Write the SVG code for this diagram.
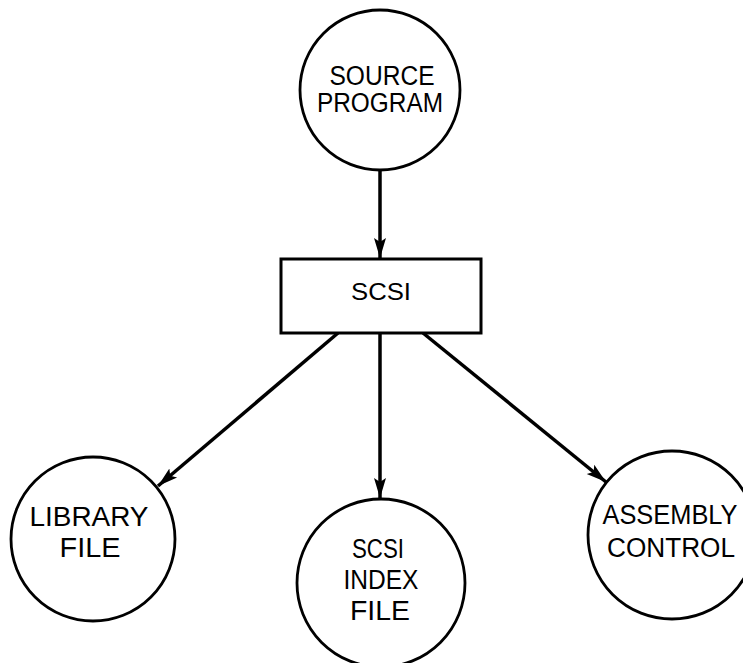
<svg xmlns="http://www.w3.org/2000/svg" width="743" height="663" viewBox="0 0 743 663">
<style>
.node{fill:#fff;stroke:#000;stroke-width:2.8}
.lbl{font-family:"Liberation Sans","DejaVu Sans",sans-serif;font-size:27px;fill:#000;text-anchor:middle}
.edge{stroke:#000;stroke-width:3.5;fill:none;marker-end:url(#ah)}
</style>
<defs>
<marker id="ah" markerUnits="userSpaceOnUse" markerWidth="22" markerHeight="14" refX="20" refY="7" orient="auto">
<path d="M0,1 L20,7 L0,13 L4,7 Z" fill="#000"/>
</marker>
</defs>
<rect width="743" height="663" fill="#fff"/>
<g id="connectors">
<line class="edge" x1="380" y1="171" x2="380" y2="258"/>
<line class="edge" x1="338" y1="333" x2="158" y2="486"/>
<line class="edge" x1="380" y1="333" x2="380" y2="498"/>
<line class="edge" x1="423" y1="333" x2="606" y2="482"/>
</g>
<g id="source">
<circle class="node" cx="380" cy="90" r="80"/>
<text class="lbl" x="382" y="85" textLength="105" lengthAdjust="spacingAndGlyphs">SOURCE</text>
<text class="lbl" x="380" y="112" textLength="126" lengthAdjust="spacingAndGlyphs">PROGRAM</text>
</g>
<g id="scsi">
<rect class="node" x="281" y="259" width="200" height="74" style="stroke-width:3"/>
<text class="lbl" x="381" y="300" style="font-size:24px" textLength="60" lengthAdjust="spacingAndGlyphs">SCSI</text>
</g>
<g id="library">
<circle class="node" cx="93" cy="539" r="82"/>
<text class="lbl" x="89" y="526" textLength="119" lengthAdjust="spacingAndGlyphs">LIBRARY</text>
<text class="lbl" x="90" y="557" textLength="61" lengthAdjust="spacingAndGlyphs">FILE</text>
</g>
<g id="index">
<circle class="node" cx="381" cy="583" r="84"/>
<text class="lbl" x="378" y="558" textLength="52" lengthAdjust="spacingAndGlyphs">SCSI</text>
<text class="lbl" x="381" y="589" textLength="75" lengthAdjust="spacingAndGlyphs">INDEX</text>
<text class="lbl" x="380" y="620" textLength="60" lengthAdjust="spacingAndGlyphs">FILE</text>
</g>
<g id="assembly">
<circle class="node" cx="672" cy="535" r="84"/>
<text class="lbl" x="670" y="524" textLength="135" lengthAdjust="spacingAndGlyphs">ASSEMBLY</text>
<text class="lbl" x="671" y="557" textLength="128" lengthAdjust="spacingAndGlyphs">CONTROL</text>
</g>
</svg>
